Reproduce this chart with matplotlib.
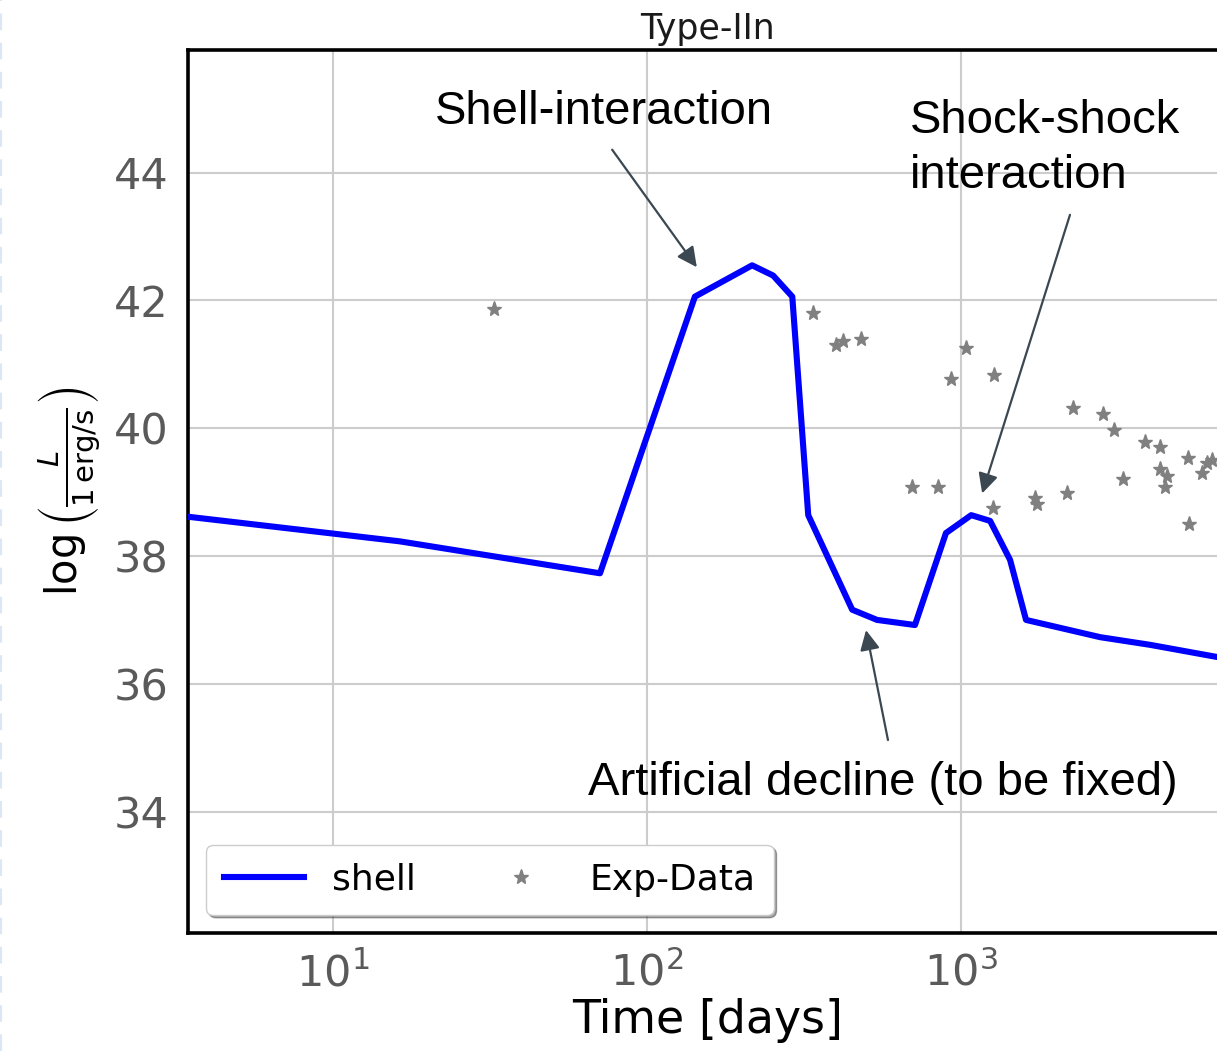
#!/usr/bin/env python3
"""Type-IIn light curve: shell model vs. observed data."""

import matplotlib

matplotlib.use("Agg")
import matplotlib.pyplot as plt  # noqa: E402
from matplotlib.lines import Line2D  # noqa: E402

# shell model light curve (days, log L)
SHELL_T = [3.0, 16.3, 70.8, 142, 216, 252, 290, 326, 450, 540, 713,
           895, 1077, 1237, 1432, 1610, 2773, 4000, 6530, 9000]
SHELL_LOGL = [38.65, 38.23, 37.73, 42.06, 42.55, 42.39, 42.06, 38.64, 37.16,
              37.0, 36.92, 38.36, 38.64, 38.55, 37.94, 37.0, 36.73, 36.61,
              36.42, 36.3]

# observed points (days, log L)
EXP_T = [32.6, 338, 400, 421, 480, 929, 1037, 1274, 2275, 2832, 3070, 3852,
         4303, 5290, 6070, 6290, 5860, 4303, 4530, 4470, 3280, 2177, 1722,
         1747, 1265, 845, 698, 5320]
EXP_LOGL = [41.86, 41.80, 41.30, 41.36, 41.39, 40.77, 41.25, 40.83, 40.31,
            40.22, 39.97, 39.78, 39.70, 39.53, 39.45, 39.50, 39.30, 39.36,
            39.25, 39.08, 39.20, 38.98, 38.91, 38.81, 38.75, 39.08, 39.08,
            38.50]

ARROW_COLOR = "#3b4852"


def main():
    plt.rcParams.update({
        "font.family": "DejaVu Sans",
        "mathtext.fontset": "dejavusans",
    })
    fig = plt.figure(figsize=(12.17, 10.51), dpi=100)
    ax = fig.add_axes([188 / 1217, 118 / 1051, 1040 / 1217, 883 / 1051])

    ax.plot(SHELL_T, SHELL_LOGL, color="blue", lw=4.4, label="shell", zorder=3)
    ax.plot(EXP_T, EXP_LOGL, ls="none", marker="*", ms=11, color="gray",
            label="Exp-Data", zorder=2)

    ax.set_xscale("log")
    ax.set_xlim(10 ** 0.538, 10 ** 3.85)
    ax.set_ylim(32.1, 45.92)
    ax.set_yticks([34, 36, 38, 40, 42, 44])
    ax.grid(True, color="#cccccc", lw=1.5)
    ax.minorticks_off()
    ax.tick_params(length=0, pad=14, labelsize=31, labelcolor="#5a5a5a")
    for sp in ax.spines.values():
        sp.set_linewidth(2.6)
        sp.set_color("black")

    ax.set_xlabel("Time [days]", fontsize=33, labelpad=2)
    ax.set_ylabel(r"$\log\left(\frac{L}{1\,\mathrm{erg/s}}\right)$", fontsize=30,
                  labelpad=8)
    ax.set_title("Type-IIn", fontsize=25, color="#1a1a1a", pad=8)

    arrow = dict(arrowstyle="-|>", color=ARROW_COLOR, lw=1.6,
                 mutation_scale=30, shrinkA=0, shrinkB=0)
    tfont = dict(family="Liberation Sans", fontsize=34, color="black")

    ax.text(73, 44.95, "Shell-interaction", ha="center", va="center", **tfont)
    ax.annotate("", xy=(144, 42.52), xytext=(77.4, 44.36), arrowprops=arrow)

    ax.text(689, 44.375, "Shock-shock\ninteraction", ha="left", va="center",
            linespacing=1.32, **tfont)
    ax.annotate("", xy=(1167, 38.98), xytext=(2222, 43.34), arrowprops=arrow)

    ax.text(565, 34.45, "Artificial decline (to be fixed)", ha="center",
            va="center", **tfont)
    ax.annotate("", xy=(498, 36.84), xytext=(585, 35.12), arrowprops=arrow)

    ax.legend(loc="lower left", ncol=2, fontsize=26, frameon=True,
              fancybox=True, shadow=True, columnspacing=1.8,
              borderaxespad=0.5, handlelength=2.2, borderpad=0.5)

    fig.add_artist(Line2D([0.001, 0.001], [0.0, 1.0], transform=fig.transFigure,
                          color="#dbe7f5", lw=1.5, ls=(0, (8, 6))))

    fig.savefig("out.png", dpi=100)
    plt.close(fig)


if __name__ == "__main__":
    main()
